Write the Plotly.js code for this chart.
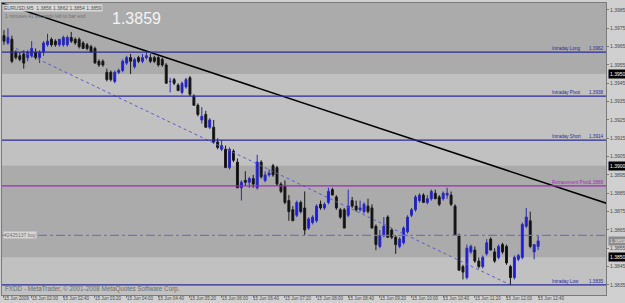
<!DOCTYPE html>
<html><head><meta charset="utf-8">
<script src="https://cdn.plot.ly/plotly-3.0.1.min.js"></script>
<style>html,body{margin:0;padding:0;background:#d0d0d0;}#c{width:625px;height:303px;}</style>
</head><body><div id="c"></div>
<script>
// EURUSD M5, 15 Jun 2009, bars from 01:25 to 12:40
const open = [
1.3971,1.3967,1.3969,1.3962,1.3960,1.3961,1.3959,1.3960,1.3962,1.3959,
1.3962,1.3966,1.3969,1.3968,1.3966,1.3966,1.3966,1.3970,1.3969,1.3969,
1.3967,1.3966,1.3965,1.3964,1.3957,1.3957,1.3951,1.3951,1.3946,1.3951,
1.3952,1.3956,1.3959,1.3954,1.3959,1.3957,1.3959,1.3959,1.3959,1.3959,
1.3958,1.3955,1.3946,1.3947,1.3944,1.3940,1.3943,1.3948,1.3938,1.3933,
1.3925,1.3928,1.3921,1.3921,1.3913,1.3909,1.3909,1.3899,1.3908,1.3902,
1.3888,1.3892,1.3891,1.3893,1.3888,1.3902,1.3892,1.3895,1.3900,1.3899,
1.3890,1.3889,1.3881,1.3876,1.3873,1.3880,1.3877,1.3866,1.3869,1.3870,
1.3879,1.3877,1.3880,1.3887,1.3883,1.3876,1.3876,1.3873,1.3881,1.3878,
1.3876,1.3875,1.3878,1.3877,1.3867,1.3856,1.3862,1.3872,1.3865,1.3861,
1.3856,1.3858,1.3864,1.3873,1.3876,1.3881,1.3884,1.3880,1.3882,1.3885,
1.3883,1.3882,1.3884,1.3884,1.3878,1.3862,1.3845,1.3839,1.3853,1.3854,
1.3848,1.3845,1.3852,1.3860,1.3853,1.3850,1.3857,1.3856,1.3845,1.3839,
1.3849,1.3850,1.3867,1.3870,1.3853,1.3856];
const high = [
1.3974,1.3975,1.3971,1.3963,1.3962,1.3963,1.3963,1.3968,1.3964,1.3963,
1.3968,1.3972,1.3970,1.3969,1.3969,1.3971,1.3971,1.3973,1.3970,1.3970,
1.3968,1.3967,1.3966,1.3965,1.3958,1.3958,1.3953,1.3952,1.3952,1.3953,
1.3958,1.3960,1.3961,1.3959,1.3960,1.3961,1.3962,1.3961,1.3960,1.3960,
1.3959,1.3956,1.3948,1.3948,1.3945,1.3946,1.3948,1.3949,1.3939,1.3934,
1.3932,1.3930,1.3926,1.3925,1.3915,1.3914,1.3911,1.3910,1.3909,1.3904,
1.3892,1.3897,1.3894,1.3895,1.3906,1.3903,1.3897,1.3898,1.3901,1.3900,
1.3891,1.3892,1.3884,1.3878,1.3881,1.3881,1.3886,1.3872,1.3873,1.3879,
1.3881,1.3880,1.3888,1.3888,1.3884,1.3877,1.3877,1.3887,1.3883,1.3881,
1.3881,1.3880,1.3882,1.3879,1.3868,1.3865,1.3872,1.3873,1.3866,1.3862,
1.3861,1.3867,1.3873,1.3877,1.3884,1.3885,1.3885,1.3884,1.3887,1.3887,
1.3884,1.3886,1.3888,1.3886,1.3879,1.3863,1.3846,1.3857,1.3857,1.3856,
1.3850,1.3851,1.3860,1.3861,1.3855,1.3857,1.3858,1.3857,1.3846,1.3851,
1.3852,1.3869,1.3877,1.3875,1.3857,1.3862];
const low = [
1.3966,1.3966,1.3956,1.3958,1.3957,1.3953,1.3957,1.3959,1.3958,1.3956,
1.3960,1.3965,1.3965,1.3965,1.3965,1.3965,1.3965,1.3967,1.3966,1.3964,
1.3964,1.3963,1.3962,1.3956,1.3954,1.3954,1.3946,1.3946,1.3945,1.3950,
1.3951,1.3955,1.3950,1.3953,1.3956,1.3956,1.3958,1.3956,1.3956,1.3954,
1.3954,1.3945,1.3940,1.3944,1.3941,1.3939,1.3942,1.3938,1.3933,1.3927,
1.3923,1.3921,1.3920,1.3912,1.3909,1.3908,1.3899,1.3898,1.3902,1.3888,
1.3881,1.3889,1.3888,1.3888,1.3887,1.3893,1.3891,1.3894,1.3894,1.3889,
1.3885,1.3879,1.3870,1.3870,1.3872,1.3874,1.3862,1.3865,1.3868,1.3869,
1.3876,1.3876,1.3879,1.3884,1.3876,1.3871,1.3866,1.3872,1.3877,1.3875,
1.3875,1.3874,1.3874,1.3866,1.3854,1.3855,1.3861,1.3861,1.3860,1.3852,
1.3855,1.3857,1.3863,1.3872,1.3875,1.3880,1.3880,1.3879,1.3881,1.3882,
1.3878,1.3881,1.3882,1.3878,1.3862,1.3843,1.3838,1.3838,1.3852,1.3847,
1.3844,1.3844,1.3851,1.3854,1.3847,1.3849,1.3852,1.3846,1.3835,1.3838,
1.3848,1.3849,1.3866,1.3855,1.3849,1.3854];
const close = [
1.3968,1.3970,1.3957,1.3959,1.3958,1.3956,1.3962,1.3964,1.3959,1.3962,
1.3967,1.3968,1.3966,1.3966,1.3969,1.3970,1.3970,1.3968,1.3967,1.3965,
1.3964,1.3964,1.3962,1.3956,1.3955,1.3955,1.3947,1.3947,1.3951,1.3952,
1.3957,1.3959,1.3957,1.3958,1.3957,1.3959,1.3960,1.3957,1.3957,1.3955,
1.3955,1.3945,1.3946,1.3945,1.3941,1.3945,1.3947,1.3939,1.3933,1.3928,
1.3927,1.3921,1.3925,1.3913,1.3910,1.3911,1.3899,1.3909,1.3903,1.3888,
1.3891,1.3891,1.3893,1.3890,1.3902,1.3894,1.3895,1.3896,1.3895,1.3890,
1.3886,1.3880,1.3875,1.3870,1.3880,1.3875,1.3865,1.3871,1.3872,1.3878,
1.3877,1.3879,1.3886,1.3884,1.3877,1.3872,1.3866,1.3878,1.3878,1.3876,
1.3877,1.3879,1.3875,1.3866,1.3857,1.3862,1.3867,1.3861,1.3861,1.3857,
1.3860,1.3866,1.3872,1.3876,1.3883,1.3884,1.3880,1.3882,1.3886,1.3882,
1.3879,1.3885,1.3885,1.3879,1.3862,1.3843,1.3842,1.3855,1.3856,1.3848,
1.3845,1.3850,1.3858,1.3854,1.3848,1.3856,1.3853,1.3847,1.3839,1.3850,
1.3851,1.3868,1.3872,1.3856,1.3857,1.3859];

const timeTickBars = [0,7,15,23,31,39,47,55,63,71,79,87,95,103,111,119,127,135];
const timeTickLabels = ["15 Jun 2009","15 Jun 02:00","15 Jun 02:40","15 Jun 03:20","15 Jun 04:00",
  "15 Jun 04:40","15 Jun 05:20","15 Jun 06:00","15 Jun 06:40","15 Jun 07:20","15 Jun 08:00",
  "15 Jun 08:40","15 Jun 09:20","15 Jun 10:00","15 Jun 10:40","15 Jun 11:20","15 Jun 12:00","15 Jun 12:40"];
const priceTicks = [1.3985,1.3975,1.3965,1.3955,1.3945,1.3935,1.3925,1.3915,1.3905,1.3895,1.3885,1.3875,1.3865,1.3855,1.3845,1.3835];
const roundLevels = [1.3950,1.3900,1.3850];
const bidPrice = 1.3859;

const levelNames = ["Intraday Long","Intraday Pivot","Intraday Short","Retracement Pivot","Intraday Low"];
const levelPrices = [1.3962,1.3938,1.3914,1.3889,1.3835];
const levelColors = ["#2b2b9a","#2b2b9a","#2b2b9a","#a22ab8","#2b2b9a"];

const trendBars = [-1, 153];
const trendPrices = [1.3989, 1.3879];
const channelBars = [3, 128];
const channelPrices = [1.3964, 1.3835];
const orderPrice = 1.3862;
const orderLabel = "#2425137 buy";

const bars = open.map((_, i) => i);
const yMin = 1.38295, yMax = 1.39888;
const xMin = -0.5, xMax = 152.15;
const FF = 'Liberation Sans, Arial, sans-serif';

const traces = [
  {type:'candlestick', x:bars, open:open, high:high, low:low, close:close,
   increasing:{line:{color:'#2a2ab8', width:1}, fillcolor:'#1818ee'},
   decreasing:{line:{color:'#1a1a1a', width:1}, fillcolor:'#0d0d0d'},
   whiskerwidth:0, hoverinfo:'skip', showlegend:false},
  {type:'scatter', mode:'lines', x:trendBars, y:trendPrices,
   line:{color:'#000000', width:1.5}, hoverinfo:'skip', showlegend:false},
  {type:'scatter', mode:'lines', x:channelBars, y:channelPrices,
   line:{color:'#5a5ac8', width:1, dash:'dot'}, hoverinfo:'skip', showlegend:false}
];

const shapes = [];
const bandEdges = [yMax, roundLevels[0], roundLevels[1], roundLevels[2], yMin];
const bandCols = ['#ababab','#c1c1c1','#ababab','#c1c1c1'];
for (let k=0;k<4;k++){
  shapes.push({type:'rect', xref:'paper', yref:'y', x0:0, x1:1, y0:bandEdges[k+1], y1:bandEdges[k],
    fillcolor:bandCols[k], line:{width:0}, layer:'below'});
}
levelPrices.forEach((p,k)=>{
  shapes.push({type:'line', xref:'paper', yref:'y', x0:0, x1:1, y0:p, y1:p,
    line:{color:levelColors[k], width:1.3}});
});
shapes.push({type:'line', xref:'paper', yref:'y', x0:0, x1:1, y0:orderPrice, y1:orderPrice,
  line:{color:'#7474bc', width:1.2, dash:'dashdot'}});

const annotations = [];
levelPrices.forEach((p,k)=>{
  annotations.push({xref:'paper', yref:'y', x:0.907, y:p, text:levelNames[k], showarrow:false,
    xanchor:'left', yanchor:'bottom', yshift:-1, font:{family:FF, size:4.6, color:levelColors[k]}});
  annotations.push({xref:'paper', yref:'y', x:1, y:p, text:p.toFixed(4), showarrow:false,
    xanchor:'right', yanchor:'bottom', yshift:-1, xshift:-1, font:{family:FF, size:4.6, color:levelColors[k]}});
});
roundLevels.forEach(p=>{
  annotations.push({xref:'paper', yref:'y', x:1, y:p, text:p.toFixed(4), showarrow:false,
    xanchor:'left', yanchor:'middle', xshift:2, bgcolor:'#000000', borderpad:1,
    font:{family:FF, size:5, color:'#ffffff'}});
});
annotations.push({xref:'paper', yref:'y', x:1, y:bidPrice, text:bidPrice.toFixed(4), showarrow:false,
  xanchor:'left', yanchor:'middle', xshift:2, bgcolor:'#8c8c8c', borderpad:1,
  font:{family:FF, size:5, color:'#e8e8e8'}});
annotations.push({xref:'paper', yref:'y', x:0.002, y:orderPrice, text:orderLabel, showarrow:false,
  xanchor:'left', yanchor:'middle', bgcolor:'#d6d6d6', borderpad:0,
  font:{family:FF, size:5, color:'#707070'}});
annotations.push({xref:'paper', yref:'paper', x:0.002, y:1, text:'EURUSD,M5  1.3856 1.3862 1.3854 1.3859',
  showarrow:false, xanchor:'left', yanchor:'top', yshift:-1, bgcolor:'#d8d8d8', borderpad:0,
  font:{family:FF, size:5, color:'#505050'}});
annotations.push({xref:'paper', yref:'paper', x:0.002, y:1, text:'1 minutes 41 seconds left to bar end',
  showarrow:false, xanchor:'left', yanchor:'top', yshift:-8,
  font:{family:FF, size:5, color:'#707070'}});
annotations.push({xref:'paper', yref:'paper', x:0.178, y:1, text:bidPrice.toFixed(4),
  showarrow:false, xanchor:'left', yanchor:'top', yshift:-5,
  font:{family:FF, size:16, color:'#f4f4f4'}});
annotations.push({xref:'paper', yref:'paper', x:0.002, y:0, text:'FXDD - MetaTrader, © 2001-2008 MetaQuotes Software Corp.',
  showarrow:false, xanchor:'left', yanchor:'bottom', yshift:0,
  font:{family:FF, size:6.3, color:'#6a6a6a'}});
timeTickBars.forEach((b,k)=>{
  annotations.push({xref:'x', yref:'paper', x:b, y:0, text:timeTickLabels[k], showarrow:false,
    xanchor:'left', yanchor:'top', xshift:-1, yshift:0, borderpad:0,
    font:{family:FF, size:4.5, color:'#4a4a4a'}});
});

const layout = {
  width:625, height:303,
  margin:{l:2, r:19, t:3, b:8, pad:0},
  paper_bgcolor:'#d0d0d0', plot_bgcolor:'#c1c1c1',
  showlegend:false,
  xaxis:{range:[xMin,xMax], rangeslider:{visible:false}, showgrid:false, zeroline:false,
    tickmode:'array', tickvals:timeTickBars, showticklabels:false,
    ticks:'outside', ticklen:2, tickcolor:'#7a7a7a',
    showline:true, linecolor:'#7a7a7a', linewidth:1, mirror:true, fixedrange:true},
  yaxis:{range:[yMin,yMax], side:'right', showgrid:false, zeroline:false,
    tickmode:'array', tickvals:priceTicks, tickformat:'.4f',
    ticks:'outside', ticklen:2, tickcolor:'#7a7a7a',
    tickfont:{family:FF, size:5, color:'#4a4a4a'},
    showline:true, linecolor:'#7a7a7a', linewidth:1, mirror:true, fixedrange:true},
  shapes:shapes, annotations:annotations
};
Plotly.newPlot('c', traces, layout, {staticPlot:true, displayModeBar:false});
</script></body></html>
